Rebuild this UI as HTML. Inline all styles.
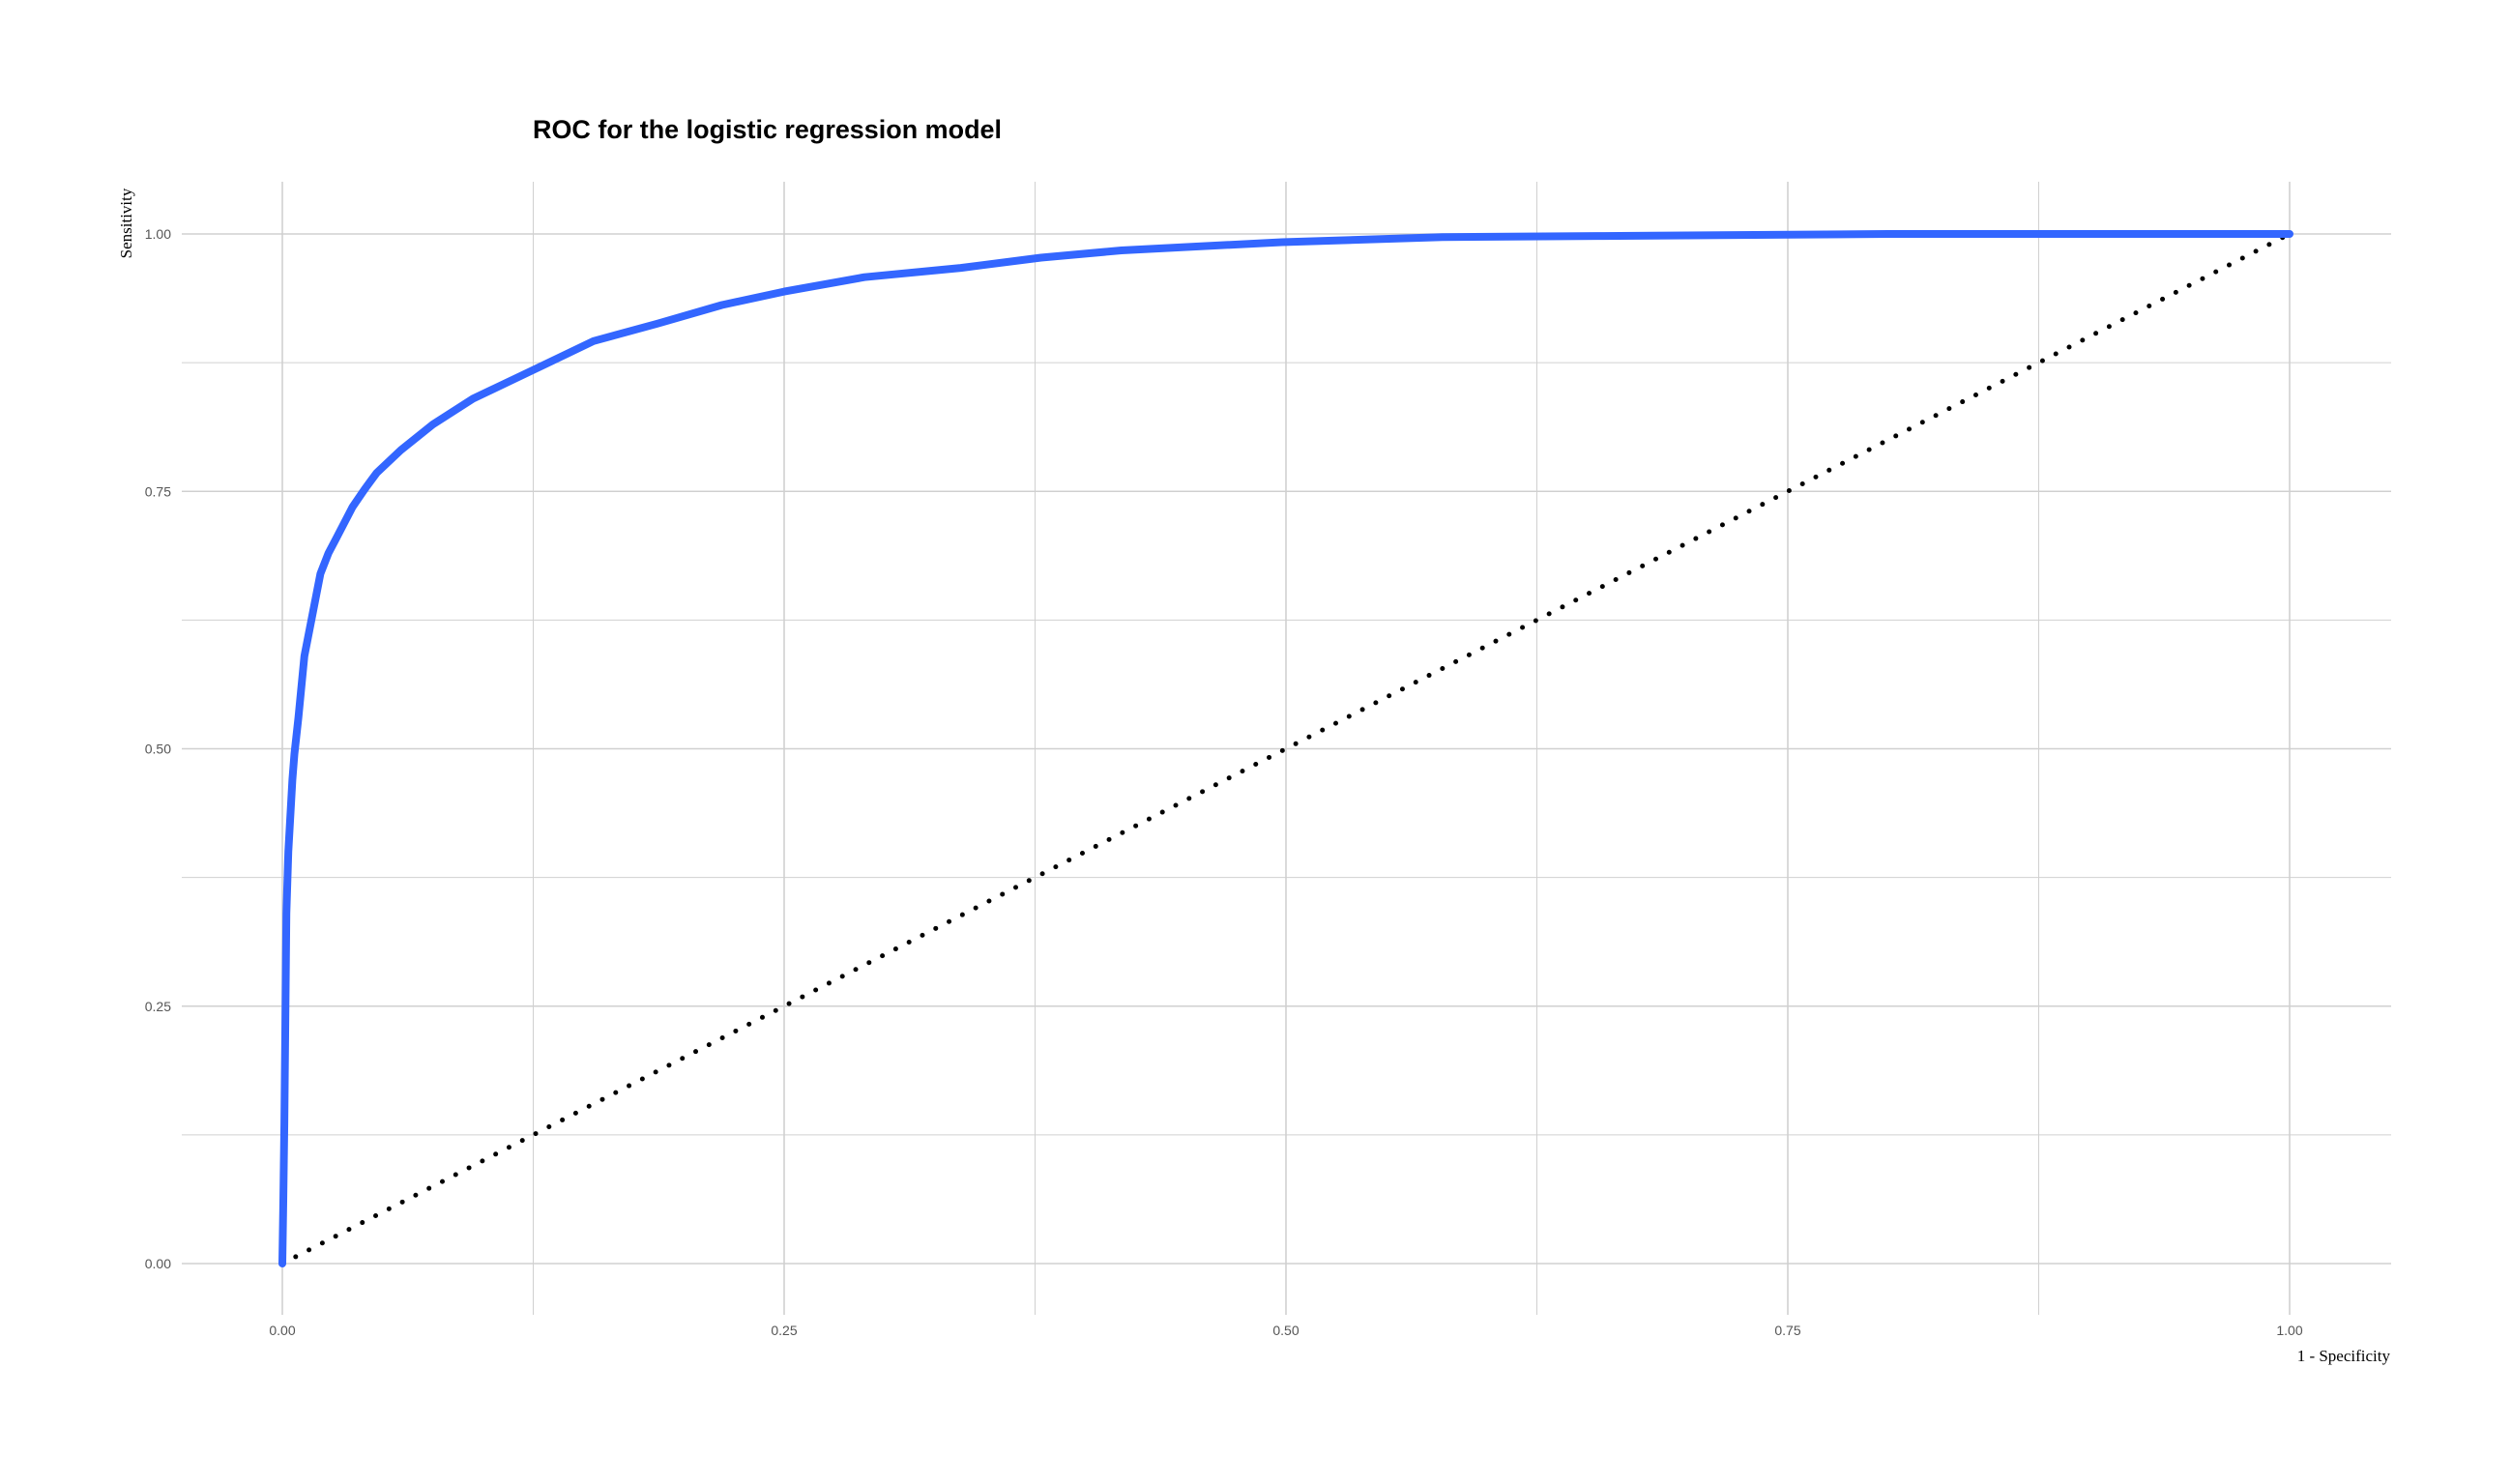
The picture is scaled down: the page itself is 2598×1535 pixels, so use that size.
<!DOCTYPE html>
<html><head><meta charset="utf-8"><style>
html,body{margin:0;padding:0;background:#fff;}
svg{display:block;}
</style></head><body>
<svg id="chart" width="2598" height="1535" xmlns="http://www.w3.org/2000/svg">
<rect width="2598" height="1535" fill="#fff"/>
<text x="551" y="143" font-family="Liberation Sans, sans-serif" font-weight="bold" font-size="27" textLength="485" lengthAdjust="spacingAndGlyphs" fill="#000">ROC for the logistic regression model</text>
<g id="grid"></g>
<g id="axes"></g>
<g id="series"></g>
<text transform="translate(136,231) rotate(-90)" text-anchor="middle" font-family="Liberation Serif, serif" font-size="17" fill="#000">Sensitivity</text>
<text x="2472" y="1408" text-anchor="end" font-family="Liberation Serif, serif" font-size="17" fill="#000">1 - Specificity</text>
</svg>
<script>
const xTicks = [0, 0.25, 0.5, 0.75, 1];
const yTicks = [0, 0.25, 0.5, 0.75, 1];
const xTickLabels = ["0.00", "0.25", "0.50", "0.75", "1.00"];
const yTickLabels = ["0.00", "0.25", "0.50", "0.75", "1.00"];
const fpr = [0,0.0005,0.001,0.002,0.003,0.005,0.006,0.008,0.011,0.015,0.019,0.023,0.027,0.035,0.041,0.047,0.059,0.075,0.095,0.123,0.155,0.187,0.219,0.25,0.29,0.338,0.378,0.418,0.498,0.578,0.658,0.8,1];
const tpr = [0,0.06,0.137,0.34,0.40,0.47,0.495,0.53,0.59,0.63,0.67,0.69,0.705,0.735,0.752,0.768,0.79,0.815,0.84,0.866,0.896,0.913,0.931,0.944,0.958,0.967,0.977,0.984,0.992,0.997,0.998,1,1];
const diagX = [0, 1];
const diagY = [0, 1];

const NS = "http://www.w3.org/2000/svg";
const X0 = 292, X1 = 2368, Y0 = 1307, Y1 = 242;
const PL = 188, PR = 2473, PT = 188, PB = 1360;
const sx = v => X0 + v * (X1 - X0);
const sy = v => Y0 - v * (Y0 - Y1);
function mk(tag, attrs, parent){ const e = document.createElementNS(NS, tag); for (const k in attrs) e.setAttribute(k, attrs[k]); parent.appendChild(e); return e; }
const grid = document.getElementById('grid'), axes = document.getElementById('axes'), series = document.getElementById('series');

for (let i = 0; i <= 8; i++) {
  const v = i / 8;
  const major = i % 2 === 0;
  const lx = mk('line', {x1: sx(v), x2: sx(v), y1: PT, y2: PB, stroke: '#d0d0d0', 'stroke-width': major ? 1.6 : 1}, grid);
  
  
  const ly = mk('line', {x1: PL, x2: PR, y1: sy(v), y2: sy(v), stroke: '#d0d0d0', 'stroke-width': major ? 1.6 : 1}, grid);
  
  
}
xTicks.forEach((v, i) => {
  const t = mk('text', {x: sx(v), y: 1381, 'text-anchor': 'middle', 'font-family': 'Liberation Sans, sans-serif', 'font-size': 14, fill: '#555'}, axes);
  t.textContent = xTickLabels[i];
  
  
});
yTicks.forEach((v, i) => {
  const t = mk('text', {x: 177, y: sy(v) + 5, 'text-anchor': 'end', 'font-family': 'Liberation Sans, sans-serif', 'font-size': 14, fill: '#555'}, axes);
  t.textContent = yTickLabels[i];
  
  
});
const d = mk('line', {x1: sx(diagX[0]), y1: sy(diagY[0]), x2: sx(diagX[1]), y2: sy(diagY[1]), stroke: '#000', 'stroke-width': 5, 'stroke-dasharray': '0 15.5', 'stroke-linecap': 'round'}, series);


const pts = fpr.map((v, i) => sx(v).toFixed(1) + ',' + sy(tpr[i]).toFixed(1)).join(' ');
const roc = mk('polyline', {points: pts, fill: 'none', stroke: '#3366FF', 'stroke-width': 8, 'stroke-linejoin': 'round', 'stroke-linecap': 'round'}, series);


</script>
</body></html>
